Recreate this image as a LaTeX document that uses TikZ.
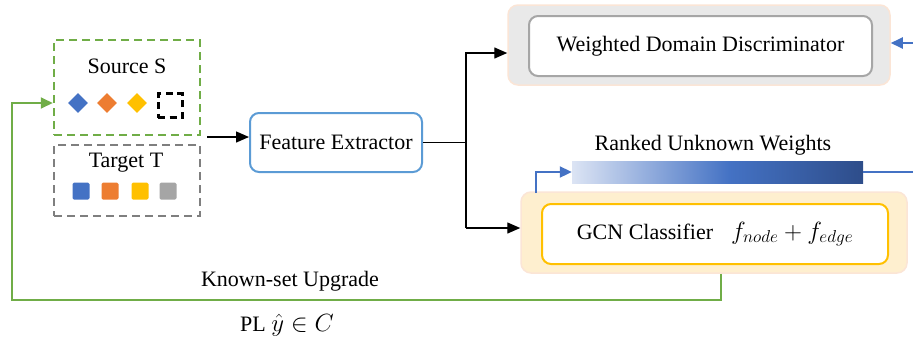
\documentclass[tikz,border=0pt]{standalone}
\usepackage{fontspec}
\setmainfont{Liberation Serif}
\usetikzlibrary{arrows.meta,shapes.geometric,calc}

\definecolor{srcgreen}{HTML}{70AD47}
\definecolor{tgtgray}{HTML}{7F7F7F}
\definecolor{cblue}{HTML}{4472C4}
\definecolor{corange}{HTML}{ED7D31}
\definecolor{cyellow}{HTML}{FFC000}
\definecolor{cgray}{HTML}{A5A5A5}
\definecolor{feblue}{HTML}{5B9BD5}
\definecolor{panelgray}{HTML}{E9E9E9}
\definecolor{panelrim}{HTML}{FBE5D6}
\definecolor{panelcream}{HTML}{FEEFCF}
\definecolor{innergray}{HTML}{A6A6A6}
\definecolor{barlight}{HTML}{DCE4F4}
\definecolor{bardark}{HTML}{2E4D8A}

% light-to-dark blue ramp for the weight bar
\pgfdeclarehorizontalshading{rankramp}{100bp}{color(0bp)=(barlight); color(25bp)=(barlight); color(52bp)=(cblue); color(75bp)=(bardark); color(100bp)=(bardark)}

\tikzset{
  dashbox/.style={draw, line width=2.5pt, dash pattern=on 8pt off 5pt, minimum width=146pt, inner sep=0pt},
  gem/.style={diamond, fill=#1, minimum width=20pt, minimum height=20pt, inner sep=0pt},
  tile/.style={rectangle, fill=#1, minimum size=17pt, inner sep=0pt, rounded corners=1.5pt},
  panel/.style={rectangle, rounded corners=10pt, draw=panelrim, line width=1.5pt, fill=#1},
  card/.style={rectangle, rounded corners=9pt, draw=#1, line width=2pt, fill=white},
  blk/.style={line width=1.4pt, -{Triangle[length=13pt,width=11pt]}},
  blu/.style={draw=cblue, line width=2pt, -{Triangle[length=12pt,width=11pt]}},
}

\begin{document}
\begin{tikzpicture}[x=1pt, y=-1pt, font=\fontsize{22}{26}\selectfont]
\useasboundingbox (0,0) rectangle (913,338);

% source and target domains
\node[dashbox, draw=srcgreen, minimum height=95pt] (src) at (127,87.5) {};
\node (srclab) at (127,66) {Source S};
\node[gem=cblue] (d1) at (78,103) {};
\node[gem=corange] (d2) at (107,103) {};
\node[gem=cyellow] (d3) at (137,103) {};
\node[draw, line width=3pt, dash pattern=on 7pt off 4.5pt, minimum size=24pt, inner sep=0pt] (unk) at (170,105.5) {};

\node[dashbox, draw=tgtgray, minimum height=71pt] (tgt) at (127,180.5) {};
\node (tgtlab) at (126,163) {Target T};
\node[tile=cblue] (t1) at (81,191) {};
\node[tile=corange] (t2) at (110,191) {};
\node[tile=cyellow] (t3) at (140,191) {};
\node[tile=cgray] (t4) at (168,191) {};

% feature extractor
\node[card=feblue, minimum width=172pt, minimum height=59pt] (fe) at (336,142.5) {Feature Extractor};

% weighted domain discriminator
\node[panel=panelgray, minimum width=382pt, minimum height=80pt] (wddout) at (699,45) {};
\node[card=innergray, minimum width=343pt, minimum height=60pt] (wdd) at (700.5,46) {Weighted Domain Discriminator};

% GCN classifier
\node[panel=panelcream, minimum width=386pt, minimum height=81pt] (gcnout) at (714,232.5) {};
\node[card=cyellow, minimum width=346pt, minimum height=60pt] (gcn) at (715,234)
  {GCN Classifier\hspace{18pt}{\fontsize{25}{28}\selectfont$f_{node}+f_{edge}$}};

% ranked weights bar
\node[rectangle, minimum width=291pt, minimum height=22pt, inner sep=0pt,
      shading=rankramp, draw=none] (bar) at (717.5,172) {};
\node (rank) at (713,145) {Ranked Unknown Weights};

% branching from the feature extractor
\coordinate (in) at (207,137);
\draw[blk] (in) -- (in -| fe.west);
\coordinate (jt) at (466,53);
\coordinate (jb) at (466,228);
\draw[line width=1.4pt] (fe.east) -- (fe.east -| jt);
\draw[blk] (jb) |- (jt) -- (jt -| wddout.west);
\draw[blk] (jb) -- (jb -| gcnout.west);

% weight feedback
\coordinate (up) at (536,193);
\draw[blu] (up) |- (bar.west);
\coordinate (edgeR) at (913,172);
\draw[draw=cblue, line width=2pt] (bar.east) -- (edgeR);
\coordinate (wIn) at (913,43);
\draw[blu] (wIn) -- (wIn -| wddout.east);

% known-set upgrade loop
\coordinate (gdown) at (721,300);
\coordinate (gleft) at (12,300);
\coordinate (gup) at (12,103);
\draw[draw=srcgreen, line width=2pt, -{Triangle[length=12pt,width=11pt]}]
  (gcnout.south -| gdown) -- (gdown) -- (gleft) -- (gup) -- (gup -| src.west);
\node (kup) at (290,281) {Known-set Upgrade};
\node (pl) at (287,325) {PL {\fontsize{24}{28}\selectfont$\hat{y}\in C$}};
\end{tikzpicture}
\end{document}
